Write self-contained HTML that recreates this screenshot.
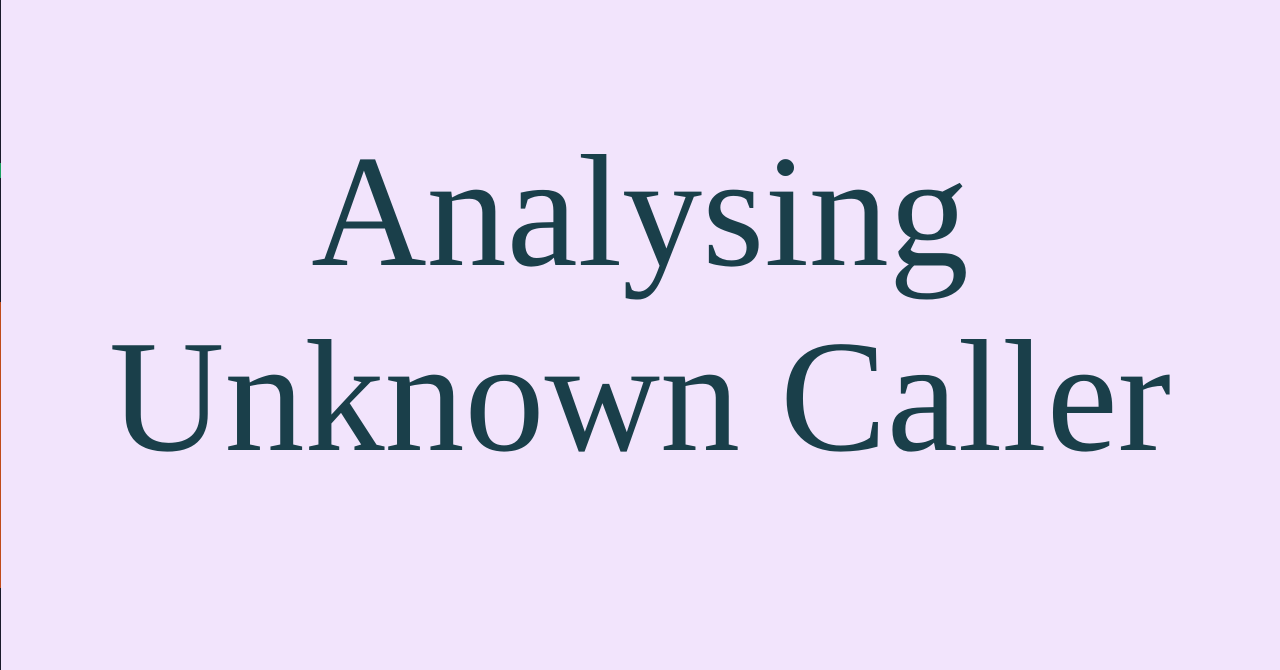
<!DOCTYPE html>
<html><head><meta charset="utf-8"><style>
html,body{margin:0;padding:0}
body{width:1280px;height:670px;background:#f2e4fc;position:relative;overflow:hidden}
.strip{position:absolute;left:0;width:1px}
.t{position:absolute;left:0;width:1280px;text-align:center;font-family:"Liberation Serif",serif;font-size:160px;color:#1a3f4a;line-height:1;white-space:nowrap}
</style></head><body>
<div class="strip" style="top:0;height:163px;background:#1a1a2a"></div>
<div class="strip" style="top:163px;height:15px;background:#1aa060"></div>
<div class="strip" style="top:178px;height:124px;background:#1a1a2a"></div>
<div class="strip" style="top:302px;height:286px;background:#c04a1a"></div>
<div class="strip" style="top:588px;height:82px;background:#1a1a2a"></div>
<div class="t" style="top:131px">Analysing</div>
<div class="t" style="top:316px">Unknown Caller</div>
</body></html>
